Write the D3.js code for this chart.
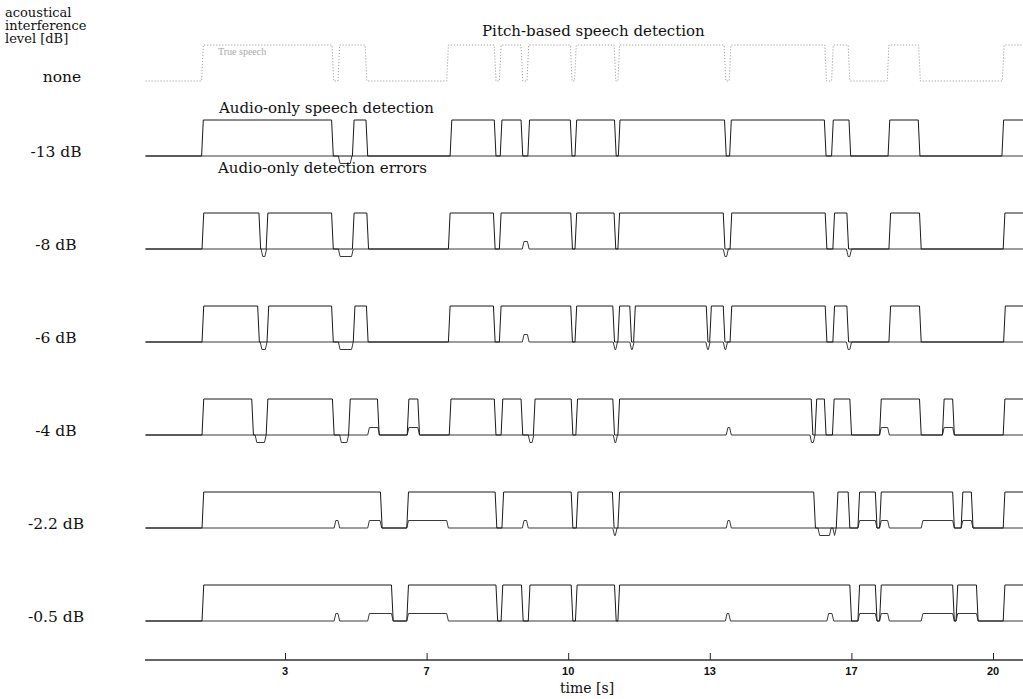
<!DOCTYPE html>
<html><head><meta charset="utf-8">
<script src="https://cdn.jsdelivr.net/npm/d3@7/dist/d3.min.js"></script>
<style>body{margin:0;background:#fff}svg{display:block}</style>
</head><body><svg id="c" width="1023" height="699"></svg>
<script>
// ---------- data (times in seconds) ----------
const rowLabels = ["none", "-13 dB", "-8 dB", "-6 dB", "-4 dB", "-2.2 dB", "-0.5 dB"];
const tickValues = [10/3, 20/3, 10, 40/3, 50/3, 20];
const tickLabels = ["3", "7", "10", "13", "17", "20"];

// true speech (reference) intervals
const trueSpeech = [[1.37,4.48],[4.58,5.26],[7.14,8.30],[8.38,8.93],[9.03,10.09],[10.15,11.12],[11.17,13.71],[13.79,16.08],[16.20,16.63],[17.51,18.29],[20.22,21]];

// audio-only speech detection intervals per interference level
const det13 = [[1.37,4.47],[4.92,5.28],[7.22,8.30],[8.40,8.93],[9.05,10.09],[10.16,11.13],[11.18,13.72],[13.80,16.07],[16.20,16.65],[17.53,18.28],[20.21,21]];
const det8  = [[1.38,2.76],[2.89,4.47],[4.92,5.30],[7.18,8.28],[8.38,10.10],[10.16,11.12],[11.17,13.69],[13.81,16.09],[16.23,16.60],[17.55,18.31],[20.24,21]];
const det6  = [[1.38,2.73],[2.91,4.47],[4.94,5.29],[7.18,8.28],[8.38,10.10],[10.16,11.09],[11.17,11.49],[11.54,13.29],[13.33,13.69],[13.81,16.09],[16.23,16.60],[17.55,18.31],[20.25,21]];
const det4  = [[1.38,2.59],[2.89,4.49],[4.83,5.55],[6.21,6.50],[7.20,8.30],[8.42,8.93],[9.18,10.11],[10.18,11.09],[11.17,15.76],[15.81,16.07],[16.22,16.67],[17.33,18.31],[18.81,19.09],[20.24,21]];
const det22 = [[1.38,5.62],[6.20,8.32],[8.44,10.11],[10.19,11.08],[11.17,15.82],[16.31,16.63],[16.82,17.27],[17.33,19.09],[19.25,19.53],[20.24,21]];
const det05 = [[1.38,5.88],[6.20,8.34],[8.42,8.94],[9.06,10.11],[10.17,11.13],[11.17,16.67],[16.82,17.27],[17.33,19.09],[19.13,19.65],[20.24,21]];

// audio-only detection errors: [start, end, sign]  (+1 false alarm, -1 miss)
const err13 = [[4.59,4.91,-1]];
const err8  = [[2.77,2.90,-1],[4.59,4.94,-1],[8.92,9.08,1],[13.65,13.77,-1],[16.55,16.67,-1]];
const err6  = [[2.75,2.91,-1],[4.59,4.94,-1],[8.92,9.08,1],[11.06,11.16,-1],[11.45,11.55,-1],[13.24,13.34,-1],[13.65,13.75,-1],[16.55,16.67,-1]];
const err4  = [[2.63,2.89,-1],[4.62,4.83,-1],[5.28,5.56,1],[6.21,6.50,1],[9.06,9.19,-1],[11.06,11.16,-1],[13.72,13.84,1],[15.69,15.81,-1],[17.33,17.56,1],[18.81,19.09,1]];
const err22 = [[4.49,4.62,1],[5.28,5.61,1],[6.20,7.18,1],[8.92,9.06,1],[11.05,11.15,-1],[13.72,13.84,1],[15.88,16.19,-1],[16.23,16.31,-1],[16.82,17.27,1],[17.33,17.56,1],[18.31,19.09,1],[19.25,19.53,1]];
const err05 = [[4.49,4.62,1],[5.28,5.88,1],[6.20,7.18,1],[13.70,13.82,1],[16.09,16.25,1],[16.82,17.27,1],[17.33,17.56,1],[18.31,19.09,1],[19.13,19.65,1]];

const detRows = [det13, det8, det6, det4, det22, det05];
const errRows = [err13, err8, err6, err4, err22, err05];

// ---------- drawing ----------
const svg = d3.select("#c");
const serif = "'DejaVu Serif', serif";

const x = d3.scaleLinear().domain([0, 20]).range([143.4, 993]);
const yRow = d3.scalePoint().domain(rowLabels.slice(1)).range([156, 621]);
const lowOf = lab => lab === "none" ? 81 : yRow(lab);
const amp = 36, errAmp = 7.5, ramp = 0.04, tEnd = 21.5;

function pulsePts(iv) {
  const p = [[0.05, 0]];
  iv.forEach(([a, b, s]) => {
    const v = s === undefined ? 1 : s;
    p.push([a, 0], [a + ramp, v], [b - ramp, v], [b, 0]);
  });
  p.push([tEnd, 0]);
  return p;
}
function lineFor(base, h) {
  return d3.line().x(d => x(d[0])).y(d => base - d[1] * h);
}

const plot = svg.append("g");

// none row: true speech only (faint dotted grey)
plot.append("path")
  .attr("d", lineFor(lowOf("none"), amp)(pulsePts(trueSpeech)))
  .attr("fill", "none").attr("stroke", "#a0a0a0").attr("stroke-width", 1)
  .attr("stroke-dasharray", "1.2,1.8");

rowLabels.slice(1).forEach((lab, i) => {
  const base = lowOf(lab);
  const g = plot.append("g");
  g.append("path").attr("d", lineFor(base, errAmp)(pulsePts(errRows[i])))
    .attr("fill", "none").attr("stroke", "#3a3a3a").attr("stroke-width", 1);
  g.append("path").attr("d", lineFor(base, amp)(pulsePts(detRows[i])))
    .attr("fill", "none").attr("stroke", "#1a1a1a").attr("stroke-width", 1);
});

// row labels
svg.selectAll("text.rl").data(rowLabels).join("text")
  .attr("class", "rl")
  .attr("x", d => d === "none" ? 62 : 56)
  .attr("y", d => lowOf(d) + 1)
  .attr("text-anchor", "middle")
  .attr("font-family", serif).attr("font-size", 15.5).attr("fill", "#111")
  .text(d => d);

// left header
["acoustical", "interference", "level [dB]"].forEach((t, i) => {
  svg.append("text").attr("x", 5).attr("y", 17 + i * 13)
    .attr("font-family", serif).attr("font-size", 13).attr("fill", "#111").text(t);
});

// annotations
svg.append("text").attr("x", 482).attr("y", 36)
  .attr("font-family", serif).attr("font-size", 15).attr("fill", "#111")
  .text("Pitch-based speech detection");
svg.append("text").attr("x", 218).attr("y", 55)
  .attr("font-family", "'Liberation Serif', serif").attr("font-size", 10).attr("fill", "#a8a8a8")
  .text("True speech");
svg.append("text").attr("x", 219).attr("y", 112.5)
  .attr("font-family", serif).attr("font-size", 15).attr("fill", "#111")
  .text("Audio-only speech detection");
svg.append("text").attr("x", 218).attr("y", 172.5)
  .attr("font-family", serif).attr("font-size", 15).attr("fill", "#111")
  .text("Audio-only detection errors");

// x axis
const axisY = 660;
const ax = svg.append("g").attr("transform", `translate(0,${axisY})`)
  .call(d3.axisTop(x).tickValues(tickValues).tickSize(7).tickFormat(""));
ax.select(".domain").remove();
ax.selectAll(".tick line").attr("stroke", "#222");
svg.append("line").attr("x1", 145).attr("x2", 1023).attr("y1", axisY).attr("y2", axisY)
  .attr("stroke", "#333").attr("stroke-width", 1.5);
svg.selectAll("text.tl").data(tickValues).join("text")
  .attr("class", "tl")
  .attr("x", d => x(d)).attr("y", 675)
  .attr("text-anchor", "middle")
  .attr("font-family", "'Liberation Sans', sans-serif").attr("font-weight", "bold")
  .attr("font-size", 11).attr("fill", "#111")
  .text((d, i) => tickLabels[i]);
svg.append("text").attr("x", 587).attr("y", 693).attr("text-anchor", "middle")
  .attr("font-family", serif).attr("font-size", 14).attr("fill", "#111")
  .text("time [s]");
</script>
</body></html>
